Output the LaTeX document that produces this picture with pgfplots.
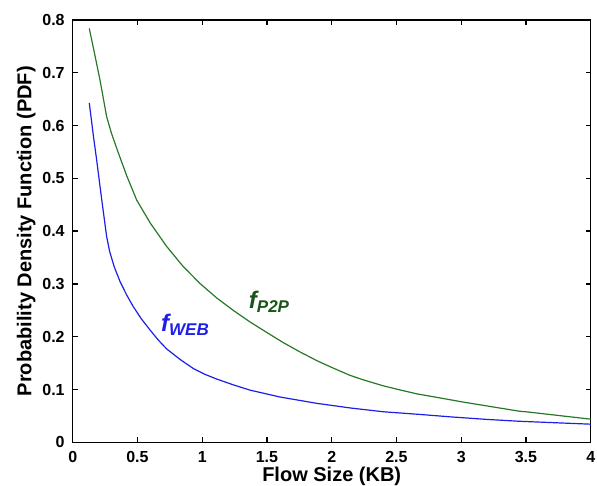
\documentclass[border=0pt]{standalone}
\usepackage{fontspec}
\setmainfont{Liberation Sans}
\usepackage{pgfplots}
\pgfplotsset{compat=1.18}
\definecolor{pgreen}{RGB}{40,120,40}
\definecolor{lgreen}{RGB}{25,85,25}
\definecolor{pblue}{RGB}{30,30,235}
\begin{document}
\begin{tikzpicture}
\begin{axis}[
    name=ax,
    scale only axis,
    width=259pt, height=211.2pt,
    xmin=0, xmax=4, ymin=0, ymax=0.8,
    xtick={0,0.5,...,4}, ytick={0,0.1,...,0.8},
    tick align=inside,
    major tick length=2.5pt,
    axis line style={line width=0.75pt},
    every tick/.style={black, line width=0.7pt},
    /pgf/number format/assume math mode=true,
    tick label style={font=\fontsize{8}{9.5}\selectfont\bfseries},
    label style={font=\fontsize{10}{12}\selectfont\bfseries, inner sep=0pt},
    xlabel={Flow Size (KB)},
    ylabel={Probability Density Function (PDF)},
    xlabel style={at={(axis description cs:0.5,-0.0919)}, anchor=base},
    ylabel style={at={(axis description cs:-0.0800,0.5)}, anchor=base},
    xticklabel style={yshift=-0.8pt},
    yticklabel style={xshift=-0.5pt},
]
\addplot[pgreen, line width=0.6pt] coordinates {
(0.128,0.784) (0.17,0.735) (0.211,0.686) (0.262,0.617) (0.30,0.585) (0.35,0.55)
(0.417,0.505) (0.494,0.459) (0.60,0.415) (0.726,0.371) (0.85,0.334) (0.983,0.301)
(1.11,0.274) (1.24,0.250) (1.37,0.228) (1.50,0.208) (1.626,0.189) (1.75,0.172)
(1.884,0.155) (2.0,0.142) (2.141,0.127) (2.25,0.118) (2.40,0.107) (2.5,0.101)
(2.656,0.092) (2.75,0.088) (2.91,0.081) (3.0,0.077) (3.25,0.067) (3.45,0.059)
(3.5,0.058) (3.75,0.051) (4.0,0.044)};
\addplot[pblue, line width=0.6pt] coordinates {
(0.128,0.643) (0.16,0.58) (0.185,0.535) (0.224,0.46) (0.262,0.39) (0.285,0.362)
(0.32,0.333) (0.365,0.305) (0.415,0.280) (0.468,0.257) (0.53,0.234) (0.597,0.213)
(0.66,0.194) (0.726,0.177) (0.83,0.157) (0.931,0.140) (1.02,0.129) (1.112,0.120)
(1.24,0.109) (1.369,0.099) (1.6,0.086) (1.884,0.074) (2.15,0.065) (2.4,0.058)
(2.68,0.053) (2.91,0.0485) (3.2,0.0435) (3.45,0.040) (3.75,0.037) (4.0,0.0345)};
\node[text=lgreen, inner sep=0pt, font=\fontsize{12}{14}\selectfont\bfseries\itshape]
  at (axis cs:1.516,0.266)
  {f\raisebox{-0.3ex}{\fontsize{8.5}{10}\selectfont P2P}};
\node[text=pblue, inner sep=0pt, font=\fontsize{12}{14}\selectfont\bfseries\itshape]
  at (axis cs:0.867,0.222)
  {f\raisebox{-0.3ex}{\fontsize{8.5}{10}\selectfont WEB}};
\end{axis}
\pgfresetboundingbox
\path (ax.south west) ++(-36.35pt,-21.35pt) coordinate (bl);
\path (ax.north east) ++(3.15pt,10pt) coordinate (tr);
\path[use as bounding box] (bl) rectangle (tr);
\end{tikzpicture}
\end{document}
